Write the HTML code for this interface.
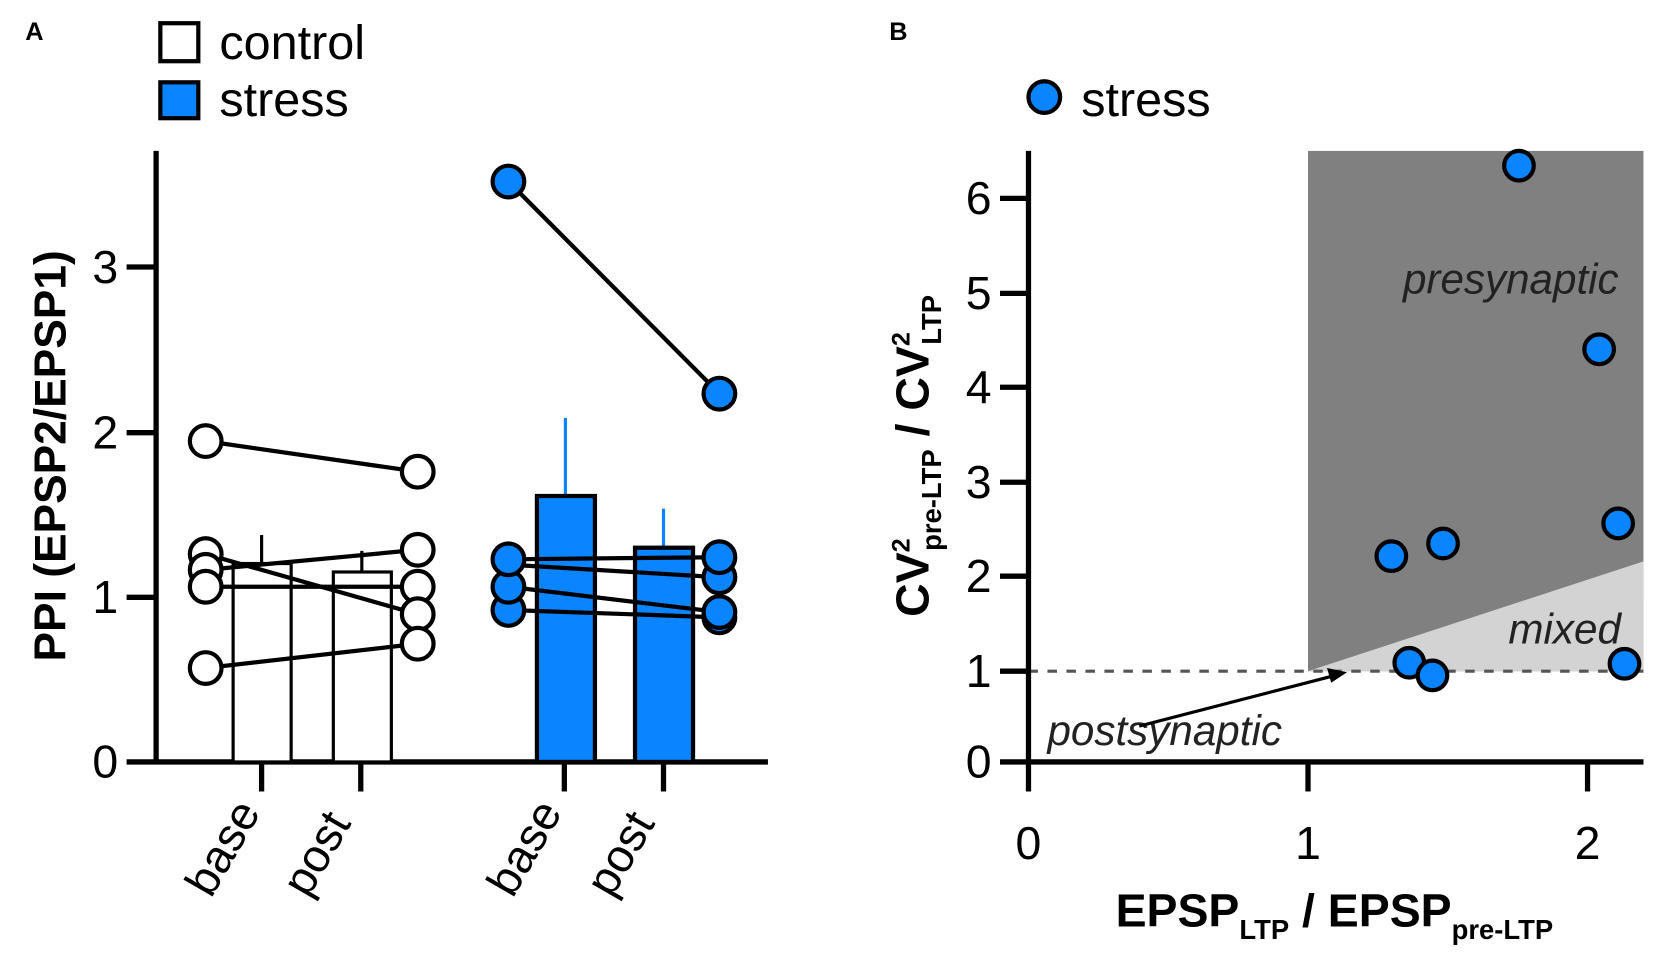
<!DOCTYPE html>
<html><head><style>html,body{margin:0;padding:0;background:#fff;}svg{display:block}</style></head>
<body>
<svg width="1654" height="954" viewBox="0 0 1568 904" preserveAspectRatio="none" xmlns="http://www.w3.org/2000/svg" font-family="'Liberation Sans Narrow','Liberation Sans',sans-serif">
<!-- Panel A -->
<text x="24" y="38" font-size="24" font-weight="bold" font-family="'Liberation Sans',sans-serif">A</text>
<rect x="152" y="22" width="36" height="36" fill="#fff" stroke="#000" stroke-width="4"/>
<text x="208" y="56" font-size="46">control</text>
<rect x="152" y="78" width="36" height="34" fill="#0a84ff" stroke="#000" stroke-width="4"/>
<text x="208" y="110" font-size="46">stress</text>
<text transform="translate(62,432) rotate(-90)" text-anchor="middle" font-size="42" font-weight="bold" font-family="'Liberation Sans',sans-serif">PPI (EPSP2/EPSP1)</text>
<g font-size="44" text-anchor="end">
<text x="112" y="737">0</text><text x="112" y="581">1</text><text x="112" y="425">2</text><text x="112" y="268">3</text>
</g>
<g stroke="#000" stroke-width="5">
<line x1="148" y1="143" x2="148" y2="724"/>
<line x1="120" y1="722" x2="728" y2="722"/>
<line x1="120" y1="566" x2="148" y2="566"/><line x1="120" y1="410" x2="148" y2="410"/><line x1="120" y1="253" x2="148" y2="253"/>
<line x1="248" y1="722" x2="248" y2="750"/><line x1="342" y1="722" x2="342" y2="750"/><line x1="535" y1="722" x2="535" y2="750"/><line x1="629" y1="722" x2="629" y2="750"/>
</g>
<g stroke="#000" stroke-width="3" fill="#fff">
<line x1="248" y1="534" x2="248" y2="507"/><line x1="343" y1="542" x2="343" y2="522"/>
<rect x="221" y="534" width="55" height="188"/><rect x="316" y="542" width="55" height="180"/>
</g>
<g stroke="#0a84ff" stroke-width="3"><line x1="536" y1="470" x2="536" y2="396"/><line x1="629" y1="519" x2="629" y2="482"/></g>
<g stroke="#000" stroke-width="4" fill="#0a84ff">
<rect x="509" y="470" width="55" height="252"/><rect x="602" y="519" width="55" height="203"/>
</g>
<g stroke="#000" stroke-width="4">
<line x1="195" y1="418" x2="396" y2="447"/><line x1="195" y1="525" x2="396" y2="582"/><line x1="195" y1="540" x2="396" y2="521"/><line x1="195" y1="556" x2="396" y2="556"/><line x1="195" y1="633" x2="396" y2="610"/>
<line x1="482" y1="172" x2="682" y2="373"/><line x1="482" y1="530" x2="682" y2="528"/><line x1="482" y1="535" x2="682" y2="547"/><line x1="482" y1="556" x2="682" y2="580"/><line x1="482" y1="578" x2="682" y2="585"/>
</g>
<g stroke="#000" stroke-width="4" fill="#fff">
<circle cx="195" cy="418" r="15"/><circle cx="195" cy="525" r="15"/><circle cx="195" cy="540" r="15"/><circle cx="195" cy="556" r="15"/><circle cx="195" cy="633" r="15"/>
<circle cx="396" cy="447" r="15"/><circle cx="396" cy="521" r="15"/><circle cx="396" cy="556" r="15"/><circle cx="396" cy="582" r="15"/><circle cx="396" cy="610" r="15"/>
</g>
<g stroke="#000" stroke-width="4" fill="#0a84ff">
<circle cx="482" cy="172" r="15"/><circle cx="482" cy="578" r="15"/><circle cx="482" cy="556" r="15"/><circle cx="482" cy="530" r="15"/>
<circle cx="682" cy="373" r="15"/><circle cx="682" cy="585" r="15"/><circle cx="682" cy="580" r="15"/><circle cx="682" cy="547" r="15"/><circle cx="682" cy="528" r="15"/>
</g>
<g font-size="44">
<text transform="translate(200,852) rotate(-60)">base</text>
<text transform="translate(292,852) rotate(-60)">post</text>
<text transform="translate(486,852) rotate(-60)">base</text>
<text transform="translate(580,852) rotate(-60)">post</text>
</g>
<!-- Panel B -->
<text x="843" y="38" font-size="24" font-weight="bold" font-family="'Liberation Sans',sans-serif">B</text>
<circle cx="990" cy="92" r="15" fill="#0a84ff" stroke="#000" stroke-width="4"/>
<text x="1025" y="110" font-size="46">stress</text>
<rect x="1240" y="143" width="318" height="493" fill="#808080"/>
<polygon points="1240,636 1558,532 1558,636" fill="#d3d3d3"/>
<line x1="975" y1="636" x2="1558" y2="636" stroke="#555" stroke-width="3" stroke-dasharray="9,9"/>
<g font-style="italic" font-size="40" fill="#222">
<text x="1330" y="278">presynaptic</text>
<text x="1430" y="610">mixed</text>
<text x="993" y="706">postsynaptic</text>
</g>
<line x1="1080" y1="688" x2="1262" y2="641" stroke="#000" stroke-width="3"/>
<polygon points="1277,637 1258,633 1262,647" fill="#000"/>
<g stroke="#000" stroke-width="5">
<line x1="975" y1="143" x2="975" y2="750"/>
<line x1="948" y1="722" x2="1558" y2="722"/>
<line x1="1240" y1="722" x2="1240" y2="750"/><line x1="1505" y1="722" x2="1505" y2="750"/>
<line x1="948" y1="636" x2="975" y2="636"/><line x1="948" y1="546" x2="975" y2="546"/><line x1="948" y1="457" x2="975" y2="457"/><line x1="948" y1="367" x2="975" y2="367"/><line x1="948" y1="278" x2="975" y2="278"/><line x1="948" y1="188" x2="975" y2="188"/>
</g>
<g font-size="44" text-anchor="end">
<text x="940" y="737">0</text><text x="940" y="651">1</text><text x="940" y="561">2</text><text x="940" y="472">3</text><text x="940" y="382">4</text><text x="940" y="293">5</text><text x="940" y="203">6</text>
</g>
<g font-size="44" text-anchor="middle">
<text x="975" y="814">0</text><text x="1240" y="814">1</text><text x="1505" y="814">2</text>
</g>
<g stroke="#000" stroke-width="4" fill="#0a84ff">
<circle cx="1440" cy="157" r="14"/><circle cx="1516" cy="331" r="14"/><circle cx="1534" cy="496" r="14"/><circle cx="1319" cy="527" r="14"/><circle cx="1368" cy="515" r="14"/><circle cx="1336" cy="628" r="14"/><circle cx="1358" cy="640" r="14"/><circle cx="1540" cy="629" r="14"/>
</g>
<text x="1265" y="878" text-anchor="middle" font-weight="bold" font-size="44" font-family="'Liberation Sans',sans-serif">EPSP<tspan font-size="26" dy="12">LTP</tspan><tspan dy="-12"> / EPSP</tspan><tspan font-size="26" dy="12">pre-LTP</tspan></text>
<text transform="translate(880,432) rotate(-90)" text-anchor="middle" font-weight="bold" font-size="44" font-family="'Liberation Sans',sans-serif">CV<tspan font-size="24" dy="-18">2</tspan><tspan font-size="26" dy="30" dx="-12">pre-LTP</tspan><tspan dy="-12"> / CV</tspan><tspan font-size="24" dy="-18">2</tspan><tspan font-size="26" dy="30" dx="-12">LTP</tspan></text>
</svg>
</body></html>
